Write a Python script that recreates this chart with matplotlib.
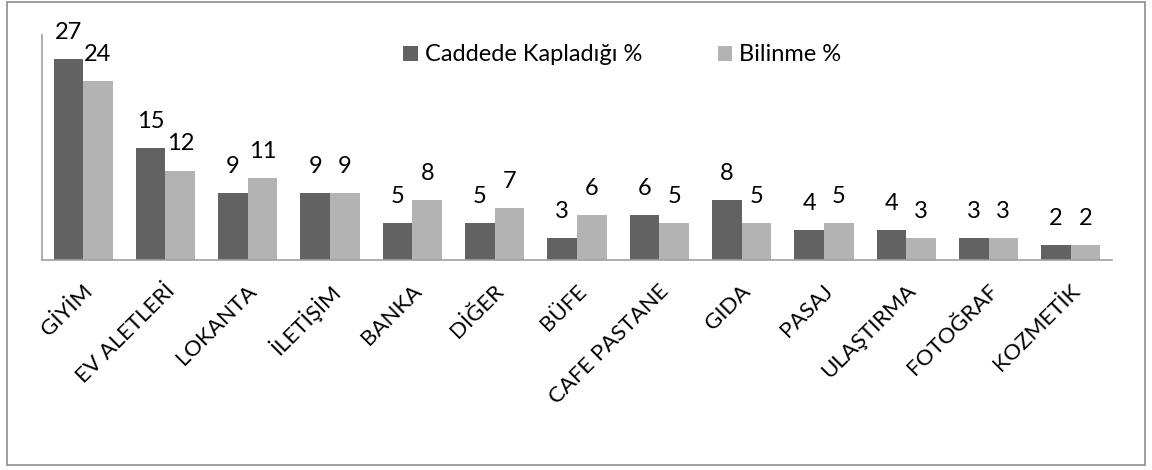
import matplotlib
matplotlib.use("Agg")
import matplotlib.pyplot as plt
import numpy as np
from matplotlib.patches import Rectangle
from matplotlib.transforms import ScaledTranslation

categories = ["GİYİM", "EV ALETLERİ", "LOKANTA", "İLETİŞİM", "BANKA", "DİĞER", "BÜFE",
              "CAFE PASTANE", "GIDA", "PASAJ", "ULAŞTIRMA", "FOTOĞRAF", "KOZMETİK"]
caddede = [27, 15, 9, 9, 5, 5, 3, 6, 8, 4, 4, 3, 2]
bilinme = [24, 12, 11, 9, 8, 7, 6, 5, 5, 5, 3, 3, 2]
series_names = ["Caddede Kapladığı %", "Bilinme %"]

plt.rcParams['font.family'] = ['Lato', 'DejaVu Sans']

W, H = 1152, 470
fig = plt.figure(figsize=(W / 100, H / 100), dpi=100)
fig.patches.append(Rectangle((7 / W, 1 - 465 / H), (1145 - 7) / W, (465 - 2) / H,
                             transform=fig.transFigure, fill=False, edgecolor='#8c8c8c', lw=1.2))

ax = fig.add_axes([42 / W, 1 - 260 / H, (1112 - 42) / W, (260 - 35) / H])
x = np.arange(len(categories))
bw = 0.36
dark, light = '#626262', '#b3b3b3'
fs = 17
b1 = ax.bar(x - bw / 2, caddede, bw, color=dark, label=series_names[0])
b2 = ax.bar(x + bw / 2, bilinme, bw, color=light, label=series_names[1])
for bars, vals in ((b1, caddede), (b2, bilinme)):
    for r, v in zip(bars, vals):
        ax.annotate(str(v), (r.get_x() + r.get_width() / 2, v), xytext=(0, 14.5),
                    textcoords='offset points', ha='center', va='baseline', fontsize=fs)

ax.set_xlim(-0.5, len(categories) - 0.5)
ax.set_ylim(0, 30.2)
ax.set_yticks([])
ax.set_xticks(x)
ax.set_xticklabels(categories, rotation=45, ha='right', va='center',
                   rotation_mode='anchor', fontsize=16)
ax.tick_params(axis='x', length=0, pad=20)
shift = ScaledTranslation(0.06, 0, fig.dpi_scale_trans)
for lbl in ax.get_xticklabels():
    lbl.set_transform(lbl.get_transform() + shift)
for s in ('top', 'right'):
    ax.spines[s].set_visible(False)
for s in ('left', 'bottom'):
    ax.spines[s].set_color('#a0a0a0')
    ax.spines[s].set_linewidth(1.2)

ax.legend(loc='upper left', bbox_to_anchor=(352 / 1070, 1.0), ncol=2, frameon=False,
          fontsize=fs, handlelength=0.6, handleheight=0.6, handletextpad=0.3,
          columnspacing=3.2, borderaxespad=0)

fig.savefig('out.png', dpi=100)
